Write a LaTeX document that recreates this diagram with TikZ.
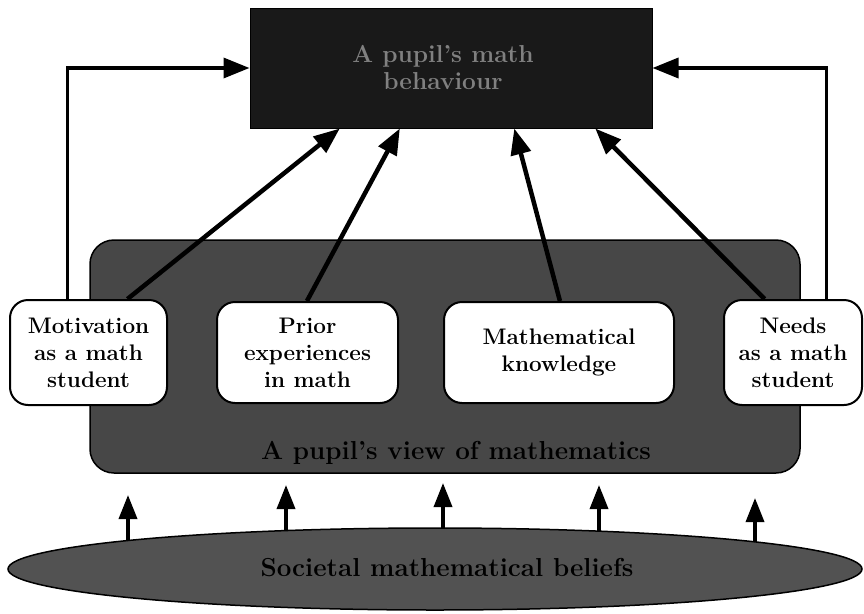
\documentclass[tikz,border=0pt]{standalone}
\usetikzlibrary{arrows.meta,calc,backgrounds,shapes.geometric}
\begin{document}
\begin{tikzpicture}[x=1pt,y=-1pt,
  lbl/.style={font=\fontsize{22.5}{27}\selectfont\bfseries, align=center},
  biglbl/.style={font=\fontsize{26}{30}\selectfont\bfseries, align=center},
  toplbl/.style={font=\fontsize{24.5}{27}\selectfont\bfseries, align=center},
  whitebox/.style={lbl, draw=black, line width=2pt, fill=white, rounded corners=18pt, inner sep=0pt},
  arr/.style={line width=4.5pt, -{Triangle[length=26pt,width=20pt]}},
  uparr/.style={line width=3.5pt, -{Triangle[length=24pt,width=18pt]}},
  loopline/.style={line width=3.5pt, -{Triangle[length=26pt,width=20pt]}},
]
\useasboundingbox (0,0) rectangle (864,613);
% big view box
\node[fill=black!72, draw=black, line width=1.5pt, rounded corners=24pt,
      minimum width=710pt, minimum height=233pt, inner sep=0pt] (view) at (445,356.5) {};
\node[biglbl, text=black] (viewlbl) at (456,453) {A pupil's view of mathematics};
% top box
\node[fill=black!90, draw=black, line width=1pt, minimum width=402pt, minimum height=120pt,
      inner sep=0pt] (beh) at (451,68) {};
\node[toplbl, text=black!50] (behlbl) at (443,67) {A pupil's math\\behaviour};
% inner boxes
\node[whitebox, minimum width=157pt, minimum height=105pt] (mot) at (88.5,352.5) {Motivation\\as a math\\student};
\node[whitebox, minimum width=181pt, minimum height=101pt] (pri) at (307.5,352.5) {Prior\\experiences\\in math};
\node[whitebox, minimum width=230pt, minimum height=101pt] (mk) at (559,352.5) {Mathematical\\knowledge};
\node[whitebox, minimum width=138pt, minimum height=105pt] (nee) at (793,352.5) {Needs\\as a math\\student};
% ellipse
\node[ellipse, fill=black!68, draw=black, line width=1.5pt, minimum width=854pt,
      minimum height=82pt, inner sep=0pt] (soc) at (435,569) {};
\node[biglbl, text=black] (soclbl) at (447,568) {Societal mathematical beliefs};
% arrows to behaviour
\draw[arr] ($(mot.north west)!0.745!(mot.north east)$) -- ($(beh.south west)!0.224!(beh.south east)$);
\draw[arr] ($(pri.north west)!0.497!(pri.north east)$) -- ($(beh.south west)!0.373!(beh.south east)$);
\draw[arr] ($(mk.north west)!0.504!(mk.north east)$) -- ($(beh.south west)!0.657!(beh.south east)$);
\draw[arr] ($(nee.north west)!0.297!(nee.north east)$) -- ($(beh.south west)!0.858!(beh.south east)$);
% loops
\draw[loopline] ($(mot.north west)!0.369!(mot.north east)$) |- (beh.west);
\draw[loopline] ($(nee.north west)!0.74!(nee.north east)$) |- (beh.east);
% arrows from ellipse
\coordinate (t1) at (128,495);
\coordinate (t2) at (286,485);
\coordinate (t3) at (443,483);
\coordinate (t4) at (599,485);
\coordinate (t5) at (755,498);
\begin{scope}[on background layer]
\foreach \t in {t1,t2,t3,t4,t5}
  \draw[uparr] (soc.center -| \t) -- (\t);
\end{scope}
\end{tikzpicture}
\end{document}
